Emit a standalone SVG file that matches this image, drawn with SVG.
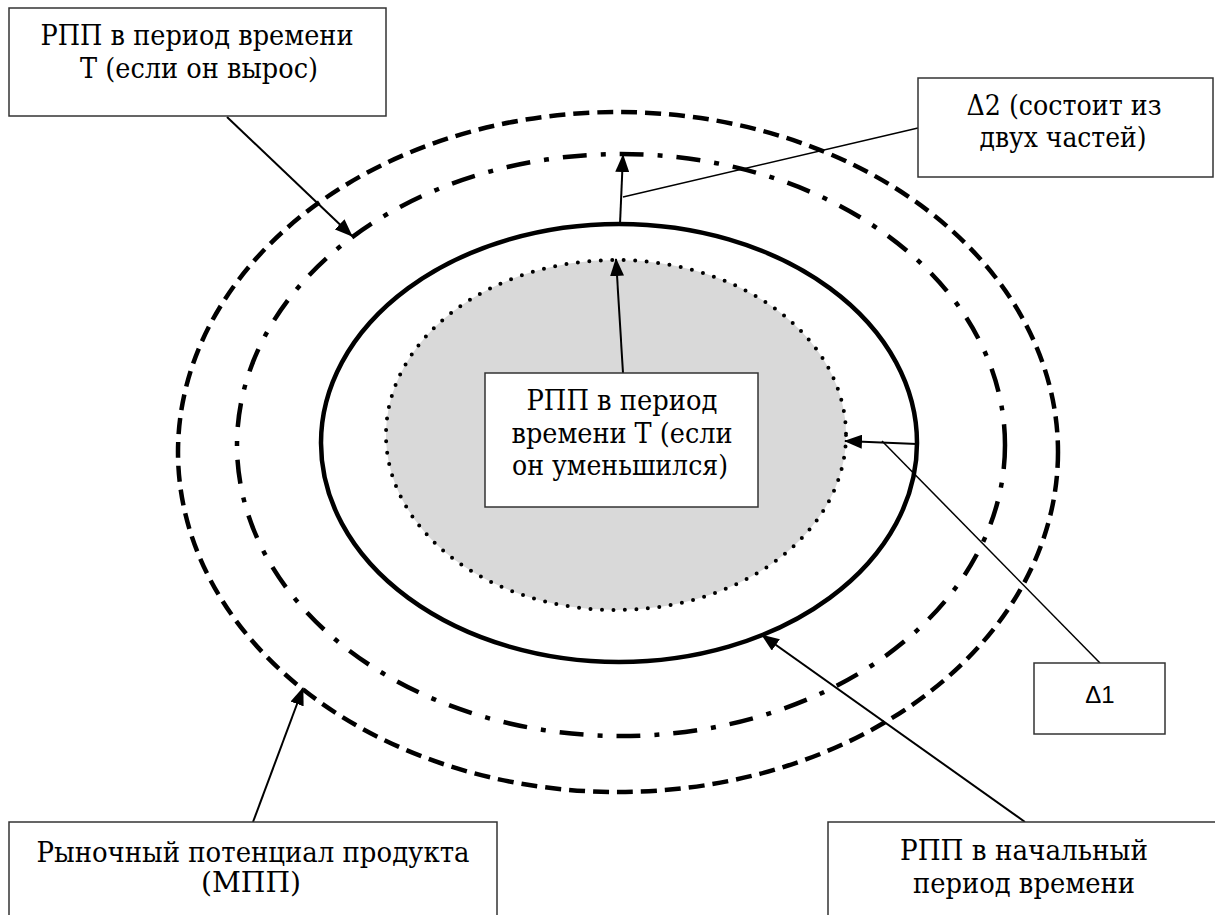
<svg xmlns="http://www.w3.org/2000/svg" width="1215" height="915" viewBox="0 0 1215 915">
<style>
.box{fill:#fff;stroke:#333;stroke-width:1.5}
.t{font-family:'DejaVu Serif','Liberation Serif',serif;font-size:28px;fill:#000;text-anchor:middle}
.s{font-family:'Liberation Sans','DejaVu Sans',sans-serif;font-size:24px;fill:#000;text-anchor:middle}
.arr{stroke:#000;stroke-width:2;fill:none;marker-end:url(#ah)}
.ln{stroke:#000;stroke-width:1.5;fill:none}
</style>
<defs>
<marker id="ah" markerWidth="18" markerHeight="14" refX="17" refY="7" orient="auto" markerUnits="userSpaceOnUse">
<path d="M0,0 L18,7 L0,14 Z" fill="#000"/>
</marker>
</defs>
<rect width="1215" height="915" fill="#fff"/>
<g id="outer-ellipse">
<ellipse cx="618" cy="452" rx="440" ry="340" fill="none" stroke="#000" stroke-width="4.5" stroke-dasharray="16 8"/>
</g>
<g id="dashdot-ellipse">
<ellipse cx="621" cy="445" rx="384" ry="291" fill="none" stroke="#000" stroke-width="4.5" stroke-dasharray="24 14 5 14"/>
</g>
<g id="solid-ellipse">
<ellipse cx="619" cy="443" rx="298" ry="219" fill="none" stroke="#000" stroke-width="4.5"/>
</g>
<g id="dotted-ellipse">
<ellipse cx="616" cy="435" rx="230" ry="175" fill="#d9d9d9" stroke="#000" stroke-width="4" stroke-linecap="round" stroke-dasharray="0 11.5"/>
</g>
<g id="connectors">
<line class="arr" x1="227" y1="117" x2="352" y2="236"/>
<line class="ln" x1="918" y1="128" x2="623" y2="197"/>
<line class="arr" x1="620" y1="224" x2="623" y2="155"/>
<line class="arr" x1="623" y1="373" x2="616" y2="259"/>
<line class="arr" x1="917" y1="444" x2="845" y2="441"/>
<line class="ln" x1="1100" y1="663" x2="882" y2="441"/>
<line class="arr" x1="253" y1="822" x2="303" y2="688"/>
<line class="arr" x1="1025" y1="822" x2="762" y2="635"/>
</g>
<g id="box-grown">
<rect class="box" x="9" y="8" width="377" height="108"/>
<text class="t" x="197" y="45" textLength="313" lengthAdjust="spacingAndGlyphs">РПП в период времени</text>
<text class="t" x="199" y="78" textLength="238" lengthAdjust="spacingAndGlyphs">Т (если он вырос)</text>
</g>
<g id="box-delta2">
<rect class="box" x="918" y="78" width="295" height="99"/>
<text class="t" x="1064" y="115" textLength="195" lengthAdjust="spacingAndGlyphs">Δ2 (состоит из</text>
<text class="t" x="1063" y="147" textLength="167" lengthAdjust="spacingAndGlyphs">двух частей)</text>
</g>
<g id="box-decreased">
<rect class="box" x="485" y="373" width="273" height="134"/>
<text class="t" x="622" y="410" textLength="191" lengthAdjust="spacingAndGlyphs">РПП в период</text>
<text class="t" x="622" y="443" textLength="221" lengthAdjust="spacingAndGlyphs">времени Т (если</text>
<text class="t" x="620" y="475" textLength="216" lengthAdjust="spacingAndGlyphs">он уменьшился)</text>
</g>
<g id="box-delta1">
<rect class="box" x="1034" y="663" width="131" height="71"/>
<text class="s" x="1100" y="703">Δ1</text>
</g>
<g id="box-mpp">
<rect class="box" x="9" y="822" width="488" height="110"/>
<text class="t" x="253" y="862" textLength="433" lengthAdjust="spacingAndGlyphs">Рыночный потенциал продукта</text>
<text class="t" x="251" y="892" textLength="100" lengthAdjust="spacingAndGlyphs">(МПП)</text>
</g>
<g id="box-initial">
<rect class="box" x="828" y="822" width="400" height="110"/>
<text class="t" x="1024" y="860" textLength="248" lengthAdjust="spacingAndGlyphs">РПП в начальный</text>
<text class="t" x="1024" y="893" textLength="222" lengthAdjust="spacingAndGlyphs">период времени</text>
</g>
</svg>
